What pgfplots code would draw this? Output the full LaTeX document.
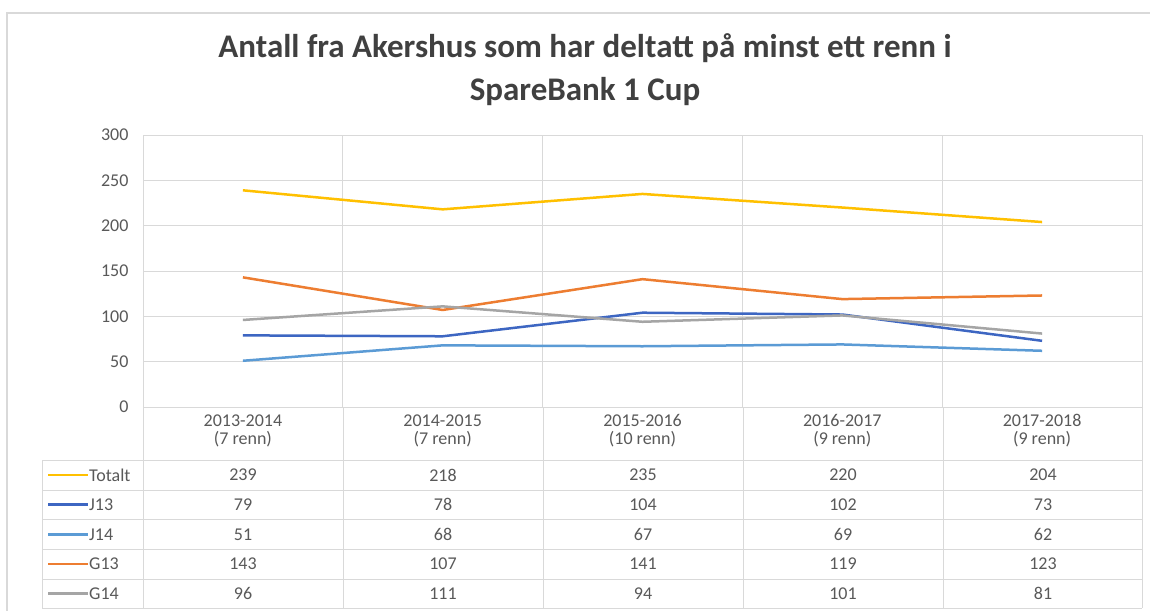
\documentclass[border=0pt]{standalone}
\usepackage{fontspec}
\setmainfont{Carlito}
\usepackage{pgfplots}
\usepackage{pgfplotstable}
\pgfplotsset{compat=1.18}
\definecolor{cTot}{HTML}{FFC000}
\definecolor{cJ13}{HTML}{3D66C2}
\definecolor{cJ14}{HTML}{5B9BD5}
\definecolor{cG13}{HTML}{ED7D31}
\definecolor{cG14}{HTML}{A5A5A5}
\definecolor{gridc}{HTML}{D9D9D9}
\definecolor{labc}{HTML}{595959}
\definecolor{titlec}{HTML}{404040}

\pgfplotstableread{
x Totalt J13 J14 G13 G14
0 239 79 51 143 96
1 218 78 68 107 111
2 235 104 67 141 94
3 220 102 69 119 101
4 204 73 62 123 81
}\datatable

\begin{document}
\begin{tikzpicture}
\useasboundingbox (0pt,0pt) rectangle (1150pt,-610pt);
\fill[white] (0pt,0pt) rectangle (1150pt,-610pt);
\draw[gridc, line width=1.2pt] (7pt,-612pt) -- (7pt,-13pt) -- (1152pt,-13pt);
\node[anchor=base, font=\fontsize{33}{38}\selectfont\bfseries, text=titlec, inner sep=0pt] at (585pt,-58pt) {Antall fra Akershus som har deltatt på minst ett renn i};
\node[anchor=base, font=\fontsize{33}{38}\selectfont\bfseries, text=titlec, inner sep=0pt] at (585pt,-100pt) {SpareBank 1 Cup};

\begin{axis}[
  at={(143pt,-407pt)}, anchor=south west,
  scale only axis, width=999pt, height=272pt,
  xmin=-0.5, xmax=4.5, ymin=0, ymax=300,
  ytick={0,50,...,300},
  xtick={0,1,2,3,4},
  xticklabels={{2013-2014\\(7 renn)},{2014-2015\\(7 renn)},{2015-2016\\(10 renn)},{2016-2017\\(9 renn)},{2017-2018\\(9 renn)}},
  minor xtick={-0.5,0.5,1.5,2.5,3.5,4.5},
  xminorgrids, ymajorgrids,
  grid style={gridc, line width=1pt},
  minor grid style={gridc, line width=1pt},
  axis line style={gridc, line width=1pt},
  major tick length=0pt, minor tick length=0pt,
  /pgf/number format/assume math mode=true,
  tick label style={font=\fontsize{18}{18}\selectfont, text=labc},
  xticklabel style={align=center, yshift=-4pt},
  yticklabel style={xshift=-11pt},
]
\addplot[cTot, line width=2.5pt, line join=round] table[x=x,y=Totalt]{\datatable};
\addplot[cJ13, line width=2.5pt, line join=round] table[x=x,y=J13]{\datatable};
\addplot[cJ14, line width=2.5pt, line join=round] table[x=x,y=J14]{\datatable};
\addplot[cG13, line width=2.5pt, line join=round] table[x=x,y=G13]{\datatable};
\addplot[cG14, line width=2.5pt, line join=round] table[x=x,y=G14]{\datatable};
\end{axis}

% data table
\foreach \yy in {460,490,519,549,579,608} {
  \draw[gridc, line width=1pt] (42pt,-\yy pt) -- (1142pt,-\yy pt);
}
\draw[gridc, line width=1pt] (42pt,-460pt) -- (42pt,-608pt);
\foreach \xx in {143,343,543,743,943,1142} {
  \draw[gridc, line width=1pt] (\xx pt,-407pt) -- (\xx pt,-608pt);
}
\foreach \c/\col [count=\r] in {Totalt/cTot,J13/cJ13,J14/cJ14,G13/cG13,G14/cG14} {
  \draw[\col, line width=2.5pt] (48pt,{-(445.5+29.6*\r)*1pt}) -- (88pt,{-(445.5+29.6*\r)*1pt});
  \node[anchor=west, inner sep=0pt, font=\fontsize{18}{18}\selectfont, text=labc] at (89pt,{-(445.5+29.6*\r)*1pt}) {\c};
  \foreach \i in {0,...,4} {
    \pgfplotstablegetelem{\i}{\c}\of\datatable
    \node[inner sep=0pt, font=\fontsize{18}{18}\selectfont, text=labc] at ({(243+200*\i)*1pt},{-(445.5+29.6*\r)*1pt}) {\pgfplotsretval};
  }
}
\end{tikzpicture}
\end{document}
